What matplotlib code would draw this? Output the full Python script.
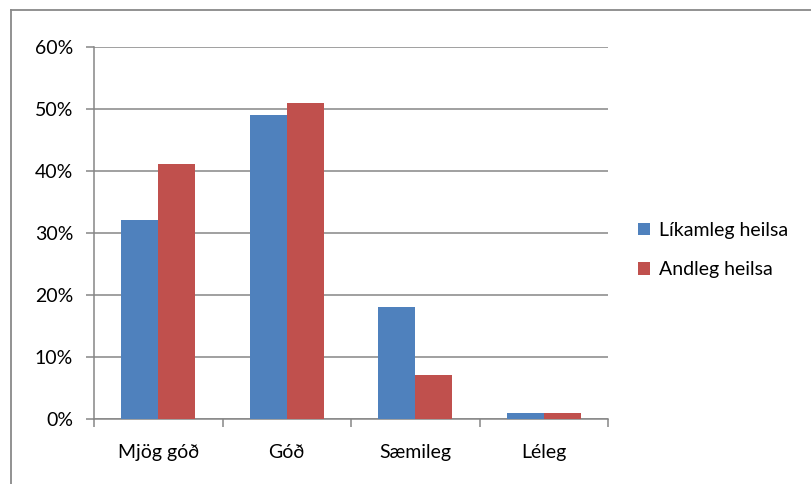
import matplotlib
matplotlib.use("Agg")
import matplotlib.pyplot as plt
from matplotlib.lines import Line2D
import numpy as np

categories = ["Mjög góð", "Góð", "Sæmileg", "Léleg"]
series_names = ["Líkamleg heilsa", "Andleg heilsa"]
likamleg = [32, 49, 18, 1]
andleg = [41, 51, 7, 1]
yticks = [0, 10, 20, 30, 40, 50, 60]
ytick_labels = ["0%", "10%", "20%", "30%", "40%", "50%", "60%"]

blue = "#4F81BD"
red = "#C0504D"
grid_c = "#868686"
fs = 14

plt.rcParams['font.family'] = ['Lato', 'DejaVu Sans']

fig = plt.figure(figsize=(8.11, 4.84), dpi=100)
ax = fig.add_axes([94/811, 1-418.7/484, (608-94)/811, (418.7-46.7)/484])

x = np.arange(len(categories))
w = 0.288
ax.bar(x - w/2, likamleg, w, color=blue, label=series_names[0], zorder=3)
ax.bar(x + w/2, andleg, w, color=red, label=series_names[1], zorder=3)

ax.set_xlim(-0.5, len(categories) - 0.5)
ax.set_ylim(0, 60)
ax.set_yticks(yticks)
ax.set_yticklabels(ytick_labels, fontsize=fs)
ax.yaxis.grid(True, color=grid_c, linewidth=1.1, zorder=0)
ax.set_axisbelow(True)

ax.set_xticks(np.arange(-0.5, len(categories), 1.0))
ax.set_xticklabels([])
ax.set_xticks(x, minor=True)
ax.set_xticklabels(categories, minor=True, fontsize=fs)
ax.tick_params(axis='x', which='minor', length=0, pad=18)
ax.tick_params(axis='x', which='major', length=6, color=grid_c, width=1.1)
ax.tick_params(axis='y', length=6, color=grid_c, width=1.1, pad=9)

for s in ['top', 'right']:
    ax.spines[s].set_visible(False)
for s in ['left', 'bottom']:
    ax.spines[s].set_color(grid_c)
    ax.spines[s].set_linewidth(1.1)

fig.legend(loc='upper left', bbox_to_anchor=(638/811, 1-222/484), frameon=False,
           fontsize=fs, handlelength=0.62, handleheight=0.62, handletextpad=0.45,
           labelspacing=1.15, borderpad=0, borderaxespad=0)

# outer chart border (top and left visible; right/bottom run past the image)
fig.add_artist(Line2D([11/811, 11/811], [0, 1-10/484], transform=fig.transFigure,
                      color="#898989", linewidth=1.3))
fig.add_artist(Line2D([11/811, 1], [1-10/484, 1-10/484], transform=fig.transFigure,
                      color="#898989", linewidth=1.3))

fig.savefig("out.png", dpi=100)
